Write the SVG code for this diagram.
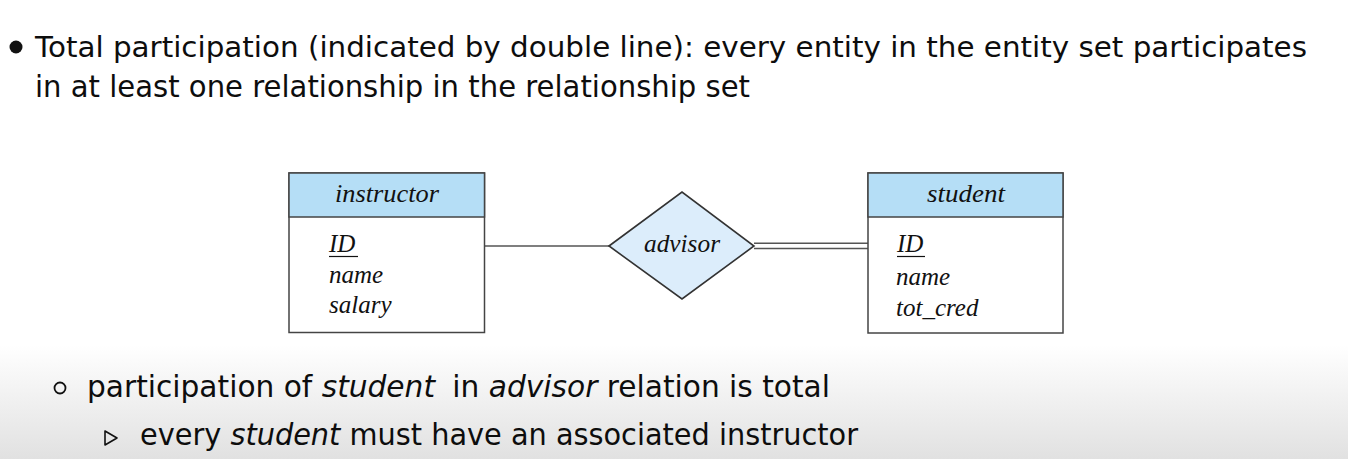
<svg xmlns="http://www.w3.org/2000/svg" width="1348" height="459" viewBox="0 0 1348 459">
  <defs>
    <linearGradient id="bg" x1="0" y1="0" x2="0" y2="1">
      <stop offset="0" stop-color="#ffffff"/>
      <stop offset="1" stop-color="#e1e1e1"/>
    </linearGradient>
    <style>
      .sans { font-family: "DejaVu Sans", "Liberation Sans", sans-serif; fill: #0d0d0d; }
      .it { font-style: italic; }
      .ser { font-family: "Liberation Serif", "DejaVu Serif", serif; font-style: italic; fill: #111; font-size: 25px; }
      .box { fill: #ffffff; stroke: #444; stroke-width: 1.5; }
      .hdr { fill: #b5def6; stroke: #444; stroke-width: 1.5; }
      .dia { fill: #dcedfb; stroke: #333; stroke-width: 1.6; }
      .ln { stroke: #555; stroke-width: 1.4; fill: none; }
    </style>
  </defs>
  <rect x="0" y="0" width="1348" height="459" fill="#ffffff"/>
  <rect x="0" y="345" width="1348" height="114" fill="url(#bg)"/>

  <!-- headline -->
  <circle cx="16" cy="47" r="6.5" fill="#111"/>
  <text class="sans" x="35" y="57" font-size="29" textLength="1272" lengthAdjust="spacingAndGlyphs">Total participation (indicated by double line): every entity in the entity set participates</text>
  <text class="sans" x="35" y="97" font-size="30" textLength="715" lengthAdjust="spacingAndGlyphs">in at least one relationship in the relationship set</text>

  <!-- connectors -->
  <g id="connectors">
    <line class="ln" x1="485" y1="246" x2="609" y2="246"/>
    <line class="ln" x1="754" y1="243.3" x2="868" y2="243.3"/>
    <line class="ln" x1="754" y1="248.5" x2="868" y2="248.5"/>
  </g>

  <g id="instructor">
    <rect class="box" x="289" y="173" width="195.5" height="159.5"/>
    <rect class="hdr" x="289" y="173" width="195.5" height="44"/>
    <text class="ser" x="387" y="202" text-anchor="middle" textLength="104" lengthAdjust="spacingAndGlyphs">instructor</text>
    <text class="ser" x="329" y="252">ID</text>
    <line x1="329" y1="256.5" x2="358" y2="256.5" stroke="#111" stroke-width="1.2"/>
    <text class="ser" x="329" y="283">name</text>
    <text class="ser" x="329" y="313">salary</text>
  </g>

  <g id="advisor">
    <polygon class="dia" points="609,246 682,192 754,246 682,299"/>
    <text class="ser" x="682" y="252" text-anchor="middle" textLength="76" lengthAdjust="spacingAndGlyphs">advisor</text>
  </g>

  <g id="student">
    <rect class="box" x="868" y="173" width="195" height="160"/>
    <rect class="hdr" x="868" y="173" width="195" height="44"/>
    <text class="ser" x="966" y="202" text-anchor="middle" textLength="78" lengthAdjust="spacingAndGlyphs">student</text>
    <text class="ser" x="897" y="252">ID</text>
    <line x1="897" y1="256.5" x2="925" y2="256.5" stroke="#111" stroke-width="1.2"/>
    <text class="ser" x="896" y="285">name</text>
    <text class="ser" x="896" y="316">tot_cred</text>
  </g>

  <!-- bottom bullets -->
  <circle cx="60" cy="388" r="5.5" fill="none" stroke="#111" stroke-width="1.8"/>
  <text class="sans" x="87" y="397" font-size="30" textLength="743" lengthAdjust="spacingAndGlyphs">participation of <tspan class="it">student</tspan> <tspan dx="8">in</tspan> <tspan class="it">advisor</tspan> relation is total</text>
  <polygon points="105,431 105,445 117,438" fill="none" stroke="#111" stroke-width="1.6" stroke-linejoin="round"/>
  <text class="sans" x="140" y="445" font-size="30" textLength="718" lengthAdjust="spacingAndGlyphs">every <tspan class="it">student</tspan> must have an associated instructor</text>
</svg>
